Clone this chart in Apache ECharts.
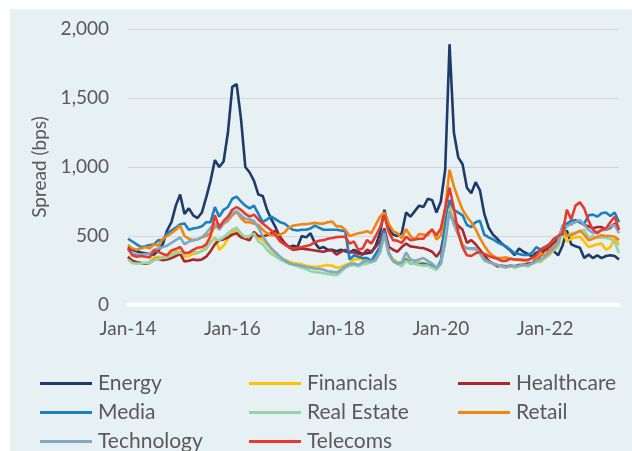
<!DOCTYPE html>
<html>
<head>
<meta charset="utf-8">
<script src="https://cdn.jsdelivr.net/npm/echarts@6/dist/echarts.min.js"></script>
<style>
html,body{margin:0;padding:0;background:#ffffff;}
#chart{position:absolute;left:10px;top:9px;width:622px;height:442px;background:#e7f0f3;}
</style>
</head>
<body>
<div id="chart"></div>
<script>
// Monthly categories Jan-14 .. Jun-23
const monthNames = ['Jan','Feb','Mar','Apr','May','Jun','Jul','Aug','Sep','Oct','Nov','Dec'];
const categories = [];
for (let y = 14; y <= 23; y++) {
  for (let m = 0; m < 12; m++) {
    if (y === 23 && m > 5) break;
    categories.push(monthNames[m] + '-' + y);
  }
}
const yTicks = [0, 500, 1000, 1500, 2000];

const energy = [420,400,390,380,375,370,365,395,440,540,600,720,800,660,700,650,630,670,780,900,1050,1000,1040,1250,1580,1600,1350,1000,960,900,
  800,790,690,620,560,490,450,420,430,420,500,490,520,450,410,420,400,400,390,400,
  390,380,400,385,370,375,380,430,520,690,560,510,500,520,670,640,680,720,710,770,
  760,670,750,980,1890,1250,1070,1020,850,810,890,830,660,560,510,480,445,420,395,362,
  410,386,370,350,380,395,400,395,390,360,430,540,440,425,415,340,365,340,360,340,
  355,360,355,330];
const financials = [345,320,310,305,300,310,345,350,345,355,370,385,385,350,355,370,375,395,420,450,490,400,430,480,530,545,505,495,500,520,
  490,470,440,400,370,345,330,315,305,300,295,285,280,275,278,285,290,285,270,275,
  290,300,330,335,330,322,310,345,380,520,380,330,310,300,340,305,300,310,300,300,
  285,260,300,480,720,600,520,440,410,410,405,390,340,320,300,290,280,275,285,280,
  290,295,280,300,320,310,350,360,400,420,540,460,480,490,495,460,420,430,440,445,
  400,420,480,435];
const healthcare = [350,320,310,305,300,305,330,335,325,330,340,355,370,315,320,330,325,330,350,390,440,470,475,490,510,520,490,480,470,530,
  500,498,505,520,540,495,450,420,400,405,410,405,400,395,390,386,395,395,365,385,
  400,385,380,372,365,400,386,420,460,555,422,400,386,420,445,425,420,415,412,400,
  386,350,395,560,660,610,575,545,450,470,440,400,360,320,300,280,285,280,285,280,
  290,290,300,305,330,360,400,420,450,480,560,590,585,610,600,580,570,555,565,565,
  545,560,590,545];
const media = [480,460,440,420,425,435,440,470,465,520,540,560,585,590,545,555,560,570,600,600,710,640,690,710,770,785,750,720,700,720,
  660,600,620,640,620,600,590,565,545,540,545,545,555,575,560,545,545,545,545,540,
  535,330,360,350,340,340,320,370,420,540,370,320,300,290,330,300,300,295,300,290,
  280,260,320,600,760,690,670,650,580,565,600,610,510,490,475,455,440,425,400,375,
  370,362,362,380,420,400,420,440,475,495,510,590,610,615,600,590,650,655,640,665,
  670,645,670,600];
const realEstate = [330,305,300,302,305,305,330,335,340,345,360,375,380,375,375,385,380,390,405,460,480,470,490,520,545,560,520,490,500,520,
  460,440,400,370,350,330,315,300,290,280,270,260,245,240,235,230,225,220,215,240,
  270,285,290,280,295,300,310,320,380,500,370,320,300,280,320,300,300,290,285,285,
  270,255,300,480,700,580,510,430,410,405,400,370,320,310,300,290,275,270,280,270,
  280,290,280,300,310,320,340,380,400,430,555,500,520,525,530,545,490,500,485,490,
  485,480,460,375];
const retail = [435,410,400,410,420,410,440,430,480,500,520,545,575,500,480,470,475,490,500,520,565,580,590,610,650,675,630,600,600,590,
  580,545,520,505,505,510,525,560,575,580,585,585,590,595,590,590,600,605,570,570,
  545,500,510,520,525,535,520,580,640,670,590,535,520,485,550,500,475,515,510,505,
  550,475,505,700,980,860,770,690,640,600,550,485,430,385,355,340,340,345,335,330,
  330,325,325,340,340,370,360,400,420,460,565,500,505,520,540,510,470,480,495,505,
  500,500,495,470];
const technology = [400,375,365,365,370,370,400,410,420,430,450,470,490,440,460,470,475,490,520,560,590,545,590,630,660,680,650,625,620,610,
  560,500,450,410,380,350,325,305,295,290,285,275,270,265,262,255,245,240,235,255,
  280,295,300,290,310,320,315,330,390,520,380,320,300,310,380,330,320,330,340,320,
  300,270,300,450,680,590,510,430,410,410,410,380,330,310,300,290,285,275,285,280,
  285,290,290,300,320,330,350,380,410,450,580,570,590,600,615,580,545,520,530,540,
  545,570,580,520];
const telecoms = [410,360,350,355,350,345,395,385,370,360,395,405,420,375,380,400,415,420,440,500,650,560,610,640,690,710,690,660,640,655,
  620,590,565,540,505,460,440,420,410,415,420,428,435,455,465,470,480,485,492,495,
  495,445,460,400,410,470,445,500,560,650,530,470,465,450,495,470,475,480,480,520,
  545,505,555,700,850,700,530,420,360,355,375,385,370,355,345,335,320,320,335,330,
  328,325,326,340,362,405,420,440,480,500,520,690,620,720,745,700,610,545,520,545,
  555,600,640,545];

const seriesNames = ['Energy','Financials','Healthcare','Media','Real Estate','Retail','Technology','Telecoms'];
const seriesData = [energy, financials, healthcare, media, realEstate, retail, technology, telecoms];
const colors = ['#1d3a68','#ffc000','#a9262b','#1b80c0','#93d4a8','#f0850f','#80a8c3','#e63a2f'];

const chart = echarts.init(document.getElementById('chart'), null, {renderer:'canvas'});
const FONT = 'Lato';
const legendBase = {
  orient: 'vertical',
  top: 359,
  height: 120,
  itemWidth: 52,
  itemHeight: 3,
  itemGap: 8,
  icon: 'rect',
  textStyle: {fontFamily: FONT, fontSize: 21, color: '#595959', lineHeight: 21, padding:[0,0,0,1]}
};
chart.setOption({
  animation: false,
  color: colors,
  textStyle: {fontFamily: FONT},
  grid: {left: 118, right: 13, top: 20, bottom: 146, containLabel: false},
  legend: [
    Object.assign({}, legendBase, {left: 25, data: ['Energy','Media','Technology']}),
    Object.assign({}, legendBase, {left: 234, data: ['Financials','Real Estate','Telecoms']}),
    Object.assign({}, legendBase, {left: 443, data: ['Healthcare','Retail']})
  ],
  xAxis: {
    type: 'category',
    data: categories,
    boundaryGap: false,
    axisLine: {show: true, lineStyle: {color: '#ffffff', width: 4}},
    axisTick: {show: false},
    axisLabel: {
      interval: function (i) { return i % 24 === 0; },
      color: '#595959', fontFamily: FONT, fontSize: 19, margin: 14
    },
    splitLine: {show: false}
  },
  yAxis: {
    type: 'value',
    min: yTicks[0], max: yTicks[yTicks.length-1], interval: 500,
    name: 'Spread (bps)',
    nameLocation: 'middle',
    nameRotate: 90,
    nameGap: 76,
    nameTextStyle: {color: '#595959', fontFamily: FONT, fontSize: 19},
    axisLine: {show: false},
    axisTick: {show: false},
    axisLabel: {
      color: '#595959', fontFamily: FONT, fontSize: 19, margin: 19,
      formatter: function (v) { return v.toLocaleString('en-US'); }
    },
    splitLine: {lineStyle: {color: '#d4d6d8', width: 1.2}}
  },
  series: seriesNames.map(function (n, i) {
    return {
      name: n, type: 'line', data: seriesData[i], symbol: 'none',
      lineStyle: {width: 2.6, color: colors[i]}, itemStyle: {color: colors[i]}
    };
  })
});
</script>
</body>
</html>
